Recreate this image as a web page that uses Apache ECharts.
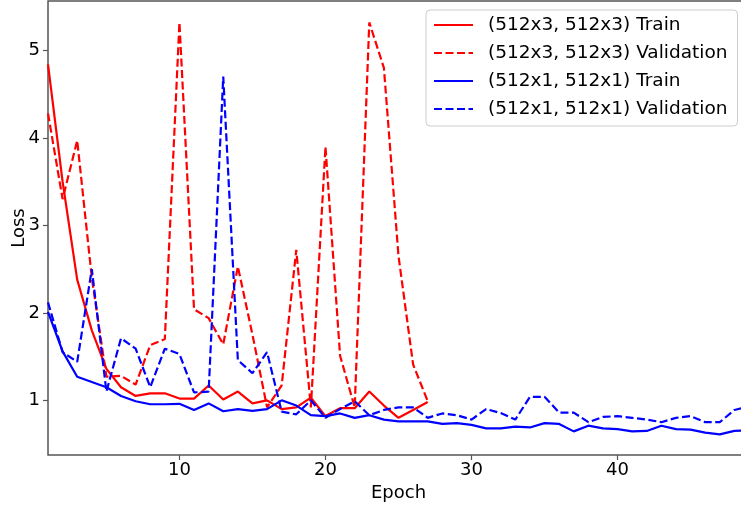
<!DOCTYPE html>
<html style="height:100%;">
	<head>
		<meta charset="UTF-8" />
		<title>Loss per epoch</title>
		<script type="text/javascript" src="https://cdn.jsdelivr.net/npm/echarts@6.0.0/dist/echarts.min.js"></script>
	</head>
	<body style="margin:0;padding:0;height:100%;background:#fff;">
		<div id="lossChart" style="width:741px;height:505px;"></div>

		<script type="text/javascript">
			// (512x3, 512x3) 模型，训练到第27轮
			const bigTrain = [4.84, 3.5, 2.38, 1.80, 1.36, 1.15, 1.05, 1.08, 1.08, 1.02,
				1.02, 1.17, 1.01, 1.10, 0.965, 1.00, 0.90, 0.92, 1.03, 0.82,
				0.91, 0.91, 1.10, 0.94, 0.80, 0.89, 0.98];
			const bigVal = [4.28, 3.3, 3.97, 2.4, 1.27, 1.28, 1.18, 1.63, 1.70, 5.32,
				2.04, 1.94, 1.64, 2.53, 1.75, 0.92, 1.17, 2.72, 0.92, 3.90,
				1.51, 0.92, 5.32, 4.80, 2.65, 1.41, 0.99];
			// (512x1, 512x1) 模型
			const smallTrain = [2.01, 1.56, 1.27, 1.21, 1.15, 1.05, 0.99, 0.955, 0.955, 0.96,
				0.89, 0.965, 0.875, 0.90, 0.88, 0.90, 1.0, 0.94, 0.83, 0.82,
				0.85, 0.80, 0.83, 0.78, 0.76, 0.76, 0.76, 0.73, 0.74, 0.72,
				0.68, 0.68, 0.70, 0.69, 0.74, 0.73, 0.645, 0.71, 0.68, 0.67,
				0.645, 0.65, 0.71, 0.67, 0.665, 0.63, 0.61, 0.65, 0.66];
			const smallVal = [2.12, 1.55, 1.44, 2.50, 1.10, 1.71, 1.59, 1.15, 1.59, 1.53,
				1.09, 1.10, 4.70, 1.46, 1.31, 1.55, 0.87, 0.84, 1.0, 0.80,
				0.90, 0.99, 0.83, 0.89, 0.92, 0.92, 0.80, 0.85, 0.83, 0.78,
				0.90, 0.855, 0.78, 1.04, 1.04, 0.86, 0.86, 0.75, 0.81, 0.82,
				0.80, 0.78, 0.75, 0.80, 0.82, 0.75, 0.75, 0.89, 0.93];
			const xTicks = [10, 20, 30, 40];
			const yTicks = [1, 2, 3, 4, 5];

			const font = "DejaVu Sans";
			const axisColor = "#555";

			function pairs(arr) {
				return arr.map(function(v, i) { return [i + 1, v]; });
			}

			function lineSeries(name, values, color, dashed) {
				return {
					name: name,
					type: "line",
					data: pairs(values),
					symbol: "none",
					showSymbol: false,
					smooth: false,
					lineStyle: {
						color: color,
						width: 2.2,
						type: dashed ? [8, 3.5] : "solid"
					},
					itemStyle: { color: color }
				};
			}

			const chart = echarts.init(document.getElementById("lossChart"));
			chart.setOption({
				animation: false,
				textStyle: { fontFamily: font },
				grid: {
					left: 48,
					top: 1,
					right: -8,
					bottom: 50,
					outerBoundsMode: "none",
					containLabel: false,
					show: true,
					borderColor: axisColor,
					borderWidth: 1.5,
					backgroundColor: "transparent"
				},
				legend: {
					orient: "vertical",
					left: 426,
					top: 10,
					padding: [4, 10, 6, 7],
					itemWidth: 39,
					itemHeight: 14,
					itemGap: 6,
					backgroundColor: "#fff",
					borderColor: "#ccc",
					borderWidth: 1,
					borderRadius: 4,
					itemStyle: { opacity: 0 },
					textStyle: {
						fontFamily: font,
						fontSize: 18.5,
						color: "#000",
						lineHeight: 22,
						padding: [0, 0, 0, 10]
					}
				},
				xAxis: {
					type: "value",
					min: 1,
					max: 49,
					name: "Epoch",
					nameLocation: "middle",
					nameGap: 27,
					nameTextStyle: { fontFamily: font, fontSize: 18, color: "#000" },
					axisLine: { show: false },
					axisTick: {
						show: true,
						length: 5,
						lineStyle: { color: axisColor, width: 1.2 },
						customValues: xTicks
					},
					axisLabel: {
						fontFamily: font,
						fontSize: 18,
						color: "#000",
						margin: 6,
						customValues: xTicks
					},
					splitLine: { show: false }
				},
				yAxis: {
					type: "value",
					min: 0.375,
					max: 5.565,
					name: "Loss",
					nameLocation: "middle",
					nameGap: 20,
					nameMoveOverlap: false,
					nameTextStyle: { fontFamily: font, fontSize: 18, color: "#000" },
					axisLine: { show: false },
					axisTick: {
						show: true,
						length: 5,
						lineStyle: { color: axisColor, width: 1.2 },
						customValues: yTicks
					},
					axisLabel: {
						fontFamily: font,
						fontSize: 18,
						color: "#000",
						margin: 8,
						customValues: yTicks
					},
					splitLine: { show: false }
				},
				series: [
					lineSeries("(512x3, 512x3) Train", bigTrain, "#ff0000", false),
					lineSeries("(512x3, 512x3) Validation", bigVal, "#ff0000", true),
					lineSeries("(512x1, 512x1) Train", smallTrain, "#0000ff", false),
					lineSeries("(512x1, 512x1) Validation", smallVal, "#0000ff", true)
				]
			});

			window.addEventListener("resize", function() {
				chart.resize();
			});
		</script>
	</body>
</html>
